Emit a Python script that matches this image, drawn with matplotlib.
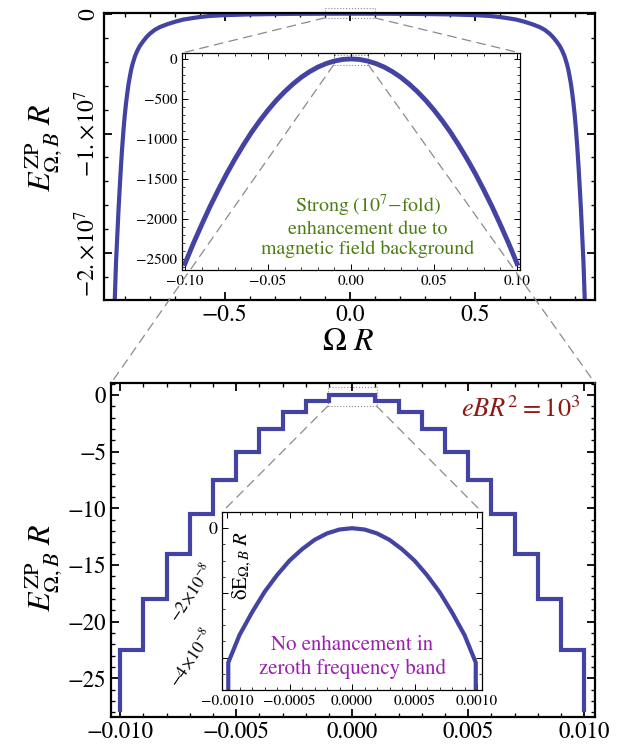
import numpy as np
import matplotlib
matplotlib.use("Agg")
import matplotlib.pyplot as plt
from matplotlib.ticker import MultipleLocator
from matplotlib.patches import Rectangle, ConnectionPatch

plt.rcParams['font.family'] = ['STIXGeneral', 'DejaVu Serif']
plt.rcParams['mathtext.fontset'] = 'stix'

# ---- data ----
# top panel: full energy vs Omega R (left half, mirrored), energy in units of 1e7
omega_half = np.array([-0.945, -0.94, -0.935, -0.93, -0.925, -0.92, -0.915, -0.91, -0.905,
                       -0.90, -0.895, -0.89, -0.885, -0.88, -0.875, -0.87, -0.86, -0.85,
                       -0.84, -0.828, -0.815, -0.80, -0.78, -0.76, -0.73, -0.70, -0.668,
                       -0.63, -0.60, -0.56, -0.50, -0.40, -0.30, -0.20, -0.10, 0.0])
energy_half = np.array([-2.9, -2.39, -2.08, -1.86, -1.64, -1.45, -1.27, -1.11, -0.97,
                        -0.85, -0.75, -0.665, -0.59, -0.53, -0.475, -0.43, -0.36, -0.31,
                        -0.27, -0.235, -0.20, -0.168, -0.135, -0.112, -0.088, -0.068, -0.050,
                        -0.037, -0.028, -0.019, -0.012, -0.006, -0.003, -0.0011, -0.00026, 0.0])

# top inset: zoom on |Omega R| < 0.1
omega_zoom = np.array([-0.100, -0.095, -0.090, -0.085, -0.080, -0.075, -0.070, -0.065, -0.060,
                       -0.055, -0.050, -0.045, -0.040, -0.035, -0.030, -0.025, -0.020,
                       -0.015, -0.010, -0.005, 0.0])
energy_zoom = np.array([-2560, -2310, -2075, -1850, -1640, -1440, -1255, -1082, -920,
                        -774, -640, -518, -410, -314, -230, -160, -102,
                        -58, -26, -6, 0])

# bottom panel: frequency bands (staircase)
band_edges = [-0.010, -0.009, -0.008, -0.007, -0.006, -0.005, -0.004, -0.003, -0.002, -0.001,
              0.001, 0.002, 0.003, 0.004, 0.005, 0.006, 0.007, 0.008, 0.009, 0.010]
band_levels = [-22.5, -18.0, -14.0, -10.5, -7.5, -5.0, -3.0, -1.5, -0.5, 0.0,
               -0.5, -1.5, -3.0, -5.0, -7.5, -10.5, -14.0, -18.0, -22.5]
band_end = -27.8

# bottom inset: zeroth band, x in units of 1e-3, energy in units of 1e-8
omega_band0 = np.array([-0.99, -0.99, -0.9, -0.8, -0.7, -0.6, -0.5, -0.4, -0.3, -0.2, -0.1, 0.0])
energy_band0 = np.array([-6.0, -4.15, -3.3, -2.6, -1.97, -1.45, -1.0, -0.65, -0.36, -0.16, -0.04, 0.0])

blue = '#4343a3'
gray = '#8a8a8a'


def style(ax, lw_spine, maj_len, min_len, size):
    for s in ax.spines.values():
        s.set_linewidth(lw_spine)
    ax.tick_params(which='both', direction='in', top=True, right=True, labelsize=size)
    ax.tick_params(which='major', length=maj_len, width=lw_spine * 0.8)
    ax.tick_params(which='minor', length=min_len, width=lw_spine * 0.6)


fig = plt.figure(figsize=(6.38, 7.52), dpi=100)

# ---- top main ----
ax1 = fig.add_axes([0.163, 0.601, 0.7696, 0.3816])
om = np.concatenate([omega_half, -omega_half[::-1][1:]])
en = np.concatenate([energy_half, energy_half[::-1][1:]])
ax1.plot(om, en * 1e7, color=blue, lw=3, solid_capstyle='butt')
ax1.set_xlim(-0.983, 0.981)
ax1.set_ylim(-2.39e7, 0.005e7)
style(ax1, 1.6, 6, 3, 17)
ax1.set_xticks([-0.5, 0.0, 0.5], ['\u22120.5', '0.0', '0.5'])
ax1.set_yticks([0, -1e7, -2e7], ['0', r'$-1.\!\times\!10^{7}$', r'$-2.\!\times\!10^{7}$'],
               rotation=90, va='center')
ax1.xaxis.set_minor_locator(MultipleLocator(0.1))
ax1.yaxis.set_minor_locator(MultipleLocator(0.2e7))
ax1.add_patch(Rectangle((-0.1, -0.035e7), 0.2, 0.085e7, fill=False, ec=gray, lw=0.8,
                        ls=':', clip_on=False))
fig.text(0.545, 0.545, r'$\mathrm{\Omega}\ R$', fontsize=23, ha='center', va='center')
fig.text(0.068, 0.803, r'$E^{\mathrm{ZP}}_{\mathrm{\Omega},B}\ R$', fontsize=23,
         rotation=90, ha='center', va='center')

# ---- top inset ----
ax2 = fig.add_axes([0.2853, 0.641, 0.5298, 0.2886])
oz = np.concatenate([omega_zoom, -omega_zoom[::-1][1:]])
ez = np.concatenate([energy_zoom, energy_zoom[::-1][1:]])
ax2.plot(oz, ez, color=blue, lw=3.5)
ax2.set_xlim(-0.1018, 0.1018)
ax2.set_ylim(-2640, 75)
style(ax2, 0.9, 4, 2, 11)
ax2.set_xticks([-0.1, -0.05, 0, 0.05, 0.1],
               ['\u22120.10', '\u22120.05', '0.00', '0.05', '0.10'])
ax2.set_yticks([0, -500, -1000, -1500, -2000, -2500],
               ['0', '\u2212500', '\u22121000', '\u22121500', '\u22122000', '\u22122500'])
ax2.xaxis.set_minor_locator(MultipleLocator(0.01))
ax2.yaxis.set_minor_locator(MultipleLocator(100))
ax2.add_patch(Rectangle((-0.0105, -75), 0.021, 125, fill=False, ec=gray, lw=0.8,
                        ls=':', clip_on=False))
ax2.text(0.55, 0.205, 'Strong (10$^{7}$\u2212fold)\nenhancement due to\nmagnetic field background',
         transform=ax2.transAxes, ha='center', va='center', fontsize=14.3,
         color='#4b7d12', linespacing=1.15)

# ---- bottom main ----
ax3 = fig.add_axes([0.174, 0.0465, 0.7586, 0.444])
xs = [band_edges[0]]
ys = [band_end]
for i, lev in enumerate(band_levels):
    xs += [band_edges[i], band_edges[i + 1]]
    ys += [lev, lev]
xs.append(band_edges[-1])
ys.append(band_end)
ax3.plot(xs, ys, color=blue, lw=3, solid_joinstyle='miter')
ax3.set_xlim(-0.0104, 0.01047)
ax3.set_ylim(-28.4, 1.05)
style(ax3, 1.6, 6, 3, 16.5)
ax3.set_xticks([-0.01, -0.005, 0, 0.005, 0.01],
               ['\u22120.010', '\u22120.005', '0.000', '0.005', '0.010'])
ax3.set_yticks([0, -5, -10, -15, -20, -25],
               ['0', '\u22125', '\u221210', '\u221215', '\u221220', '\u221225'])
ax3.xaxis.set_minor_locator(MultipleLocator(0.001))
ax3.yaxis.set_minor_locator(MultipleLocator(1))
ax3.add_patch(Rectangle((-0.00105, -0.97), 0.0021, 1.67, fill=False, ec=gray, lw=0.8,
                        ls=':', clip_on=False))
ax3.text(0.847, 0.919, r'$eBR^2 = 10^3$', transform=ax3.transAxes, ha='center',
         va='center', fontsize=19, color='#8c1a14')
fig.text(0.068, 0.245, r'$E^{\mathrm{ZP}}_{\mathrm{\Omega},B}\ R$', fontsize=23,
         rotation=90, ha='center', va='center')

# ---- bottom inset ----
ax4 = fig.add_axes([0.348, 0.0824, 0.4075, 0.2367])
o0 = np.concatenate([omega_band0, -omega_band0[::-1][1:]])
e0 = np.concatenate([energy_band0, energy_band0[::-1][1:]])
ax4.plot(o0 * 1e-3, e0 * 1e-8, color=blue, lw=3)
ax4.set_xlim(-0.00104, 0.00104)
ax4.set_ylim(-5.0e-8, 0.5e-8)
style(ax4, 0.9, 4, 2, 11)
ax4.set_xticks([-0.001, -0.0005, 0, 0.0005, 0.001],
               ['\u22120.0010', '\u22120.0005', '0.0000', '0.0005', '0.0010'])
ax4.set_yticks([0, -2e-8, -4e-8],
               ['0', r'$-2\!\times\!10^{-8}$', r'$-4\!\times\!10^{-8}$'])
for lab in ax4.get_yticklabels()[1:]:
    lab.set_rotation(56)
    lab.set_fontsize(12.5)
    lab.set_va('center')
ax4.get_yticklabels()[0].set_fontsize(13)
ax4.xaxis.set_minor_locator(MultipleLocator(0.0001))
ax4.yaxis.set_minor_locator(MultipleLocator(0.5e-8))
ax4.text(0.077, 0.70, r'$\mathrm{\delta E}_{\Omega,B}\ R$', transform=ax4.transAxes,
         rotation=90, ha='center', va='center', fontsize=15)
ax4.text(0.5, 0.185, 'No enhancement in\nzeroth frequency band', transform=ax4.transAxes,
         ha='center', va='center', fontsize=15, color='#9a1fae', linespacing=1.2)

# ---- zoom connector lines ----
connectors = [
    ((-0.1, -0.035e7), ax1, (0, 1), ax2),
    ((0.1, -0.035e7), ax1, (1, 1), ax2),
    ((-0.0105, -75), ax2, (0, 1), ax3),
    ((0.0105, -75), ax2, (1, 1), ax3),
    ((-0.00105, -0.97), ax3, (0, 1), ax4),
    ((0.00105, -0.97), ax3, (1, 1), ax4),
]
for xyA, axA, xyB, axB in connectors:
    cp = ConnectionPatch(xyA=xyA, coordsA=axA.transData, xyB=xyB, coordsB=axB.transAxes,
                         color=gray, lw=0.9, ls=(0, (7, 5)), zorder=5)
    fig.add_artist(cp)

fig.savefig('out.png', dpi=100)
